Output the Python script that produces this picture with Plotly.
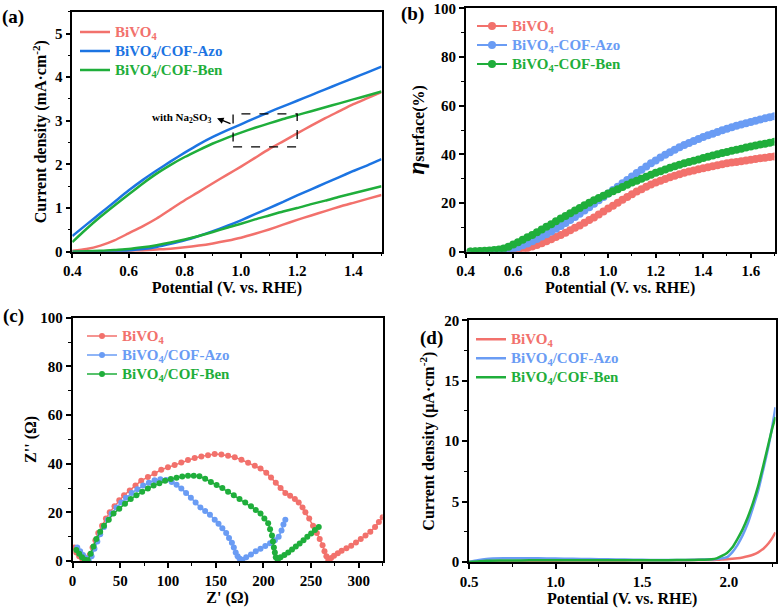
import plotly.graph_objects as go

# ---------------- data ----------------
# (a) LSV, with Na2SO3 (upper) and without (lower)
a_potential = [0.40, 0.45, 0.50, 0.55, 0.60, 0.65, 0.70, 0.75, 0.80, 0.85, 0.90, 0.95,
               1.00, 1.05, 1.10, 1.15, 1.20, 1.25, 1.30, 1.35, 1.40, 1.45, 1.50]
a_bivo4_sulfite = [0.02, 0.06, 0.14, 0.26, 0.42, 0.58, 0.76, 0.97, 1.18, 1.37, 1.57, 1.76,
                   1.95, 2.15, 2.35, 2.53, 2.71, 2.89, 3.06, 3.22, 3.38, 3.52, 3.66]
a_azo_sulfite = [0.36, 0.62, 0.88, 1.14, 1.40, 1.64, 1.86, 2.07, 2.27, 2.46, 2.63, 2.78,
                 2.92, 3.06, 3.20, 3.33, 3.46, 3.59, 3.72, 3.85, 3.98, 4.11, 4.24]
a_ben_sulfite = [0.22, 0.52, 0.80, 1.06, 1.31, 1.56, 1.79, 1.99, 2.17, 2.33, 2.48, 2.61,
                 2.73, 2.84, 2.94, 3.04, 3.13, 3.22, 3.31, 3.40, 3.49, 3.58, 3.67]
a_bivo4 = [0.0, 0.0, 0.0, 0.01, 0.02, 0.03, 0.05, 0.07, 0.10, 0.14, 0.19, 0.25,
           0.32, 0.41, 0.51, 0.62, 0.73, 0.83, 0.93, 1.03, 1.12, 1.21, 1.30]
a_azo = [0.0, 0.0, 0.0, 0.01, 0.03, 0.06, 0.11, 0.18, 0.26, 0.36, 0.47, 0.59,
         0.72, 0.86, 1.00, 1.14, 1.29, 1.43, 1.57, 1.71, 1.85, 1.98, 2.12]
a_ben = [0.0, 0.01, 0.02, 0.04, 0.06, 0.10, 0.15, 0.21, 0.28, 0.36, 0.45, 0.55,
         0.64, 0.74, 0.83, 0.92, 1.00, 1.09, 1.17, 1.26, 1.34, 1.42, 1.50]

# (b) surface charge-transfer efficiency
b_potential = [0.42, 0.44, 0.46, 0.48, 0.50, 0.52, 0.54, 0.56, 0.58, 0.60, 0.62, 0.64, 0.66,
               0.68, 0.70, 0.72, 0.74, 0.76, 0.78, 0.80, 0.82, 0.84, 0.86, 0.88, 0.90, 0.92,
               0.94, 0.96, 0.98, 1.00, 1.02, 1.04, 1.06, 1.08, 1.10, 1.12, 1.14, 1.16, 1.18,
               1.20, 1.22, 1.24, 1.26, 1.28, 1.30, 1.32, 1.34, 1.36, 1.38, 1.40, 1.42, 1.44,
               1.46, 1.48, 1.50, 1.52, 1.54, 1.56, 1.58, 1.60, 1.62, 1.64, 1.66, 1.68, 1.70]
b_bivo4 = [0, 0, 0, 0, 0, 0, 0, 0, 0, 0.1, 0.4, 0.9, 1.5,
           2.1, 2.8, 3.5, 4.3, 5.1, 6.0, 6.9, 7.8, 8.8, 9.8, 10.8, 11.9, 13.0,
           14.1, 15.3, 16.5, 17.7, 18.9, 20.1, 21.3, 22.5, 23.6, 24.7, 25.7, 26.7, 27.6,
           28.4, 29.2, 29.9, 30.6, 31.2, 31.8, 32.4, 32.9, 33.4, 33.9, 34.3, 34.7, 35.1,
           35.5, 35.9, 36.3, 36.6, 36.9, 37.2, 37.5, 37.8, 38.1, 38.4, 38.6, 38.9, 39.1]
b_azo = [0, 0, 0, 0, 0, 0, 0, 0.2, 0.6, 1.1, 1.8, 2.6, 3.4,
         4.3, 5.2, 6.2, 7.2, 8.3, 9.4, 10.6, 11.8, 13.0, 14.3, 15.6, 16.9, 18.3,
         19.7, 21.1, 22.5, 23.9, 25.3, 26.7, 28.1, 29.5, 30.9, 32.3, 33.7, 35.0, 36.3,
         37.5, 38.7, 39.8, 40.9, 41.9, 42.9, 43.8, 44.7, 45.5, 46.3, 47.1, 47.8, 48.5,
         49.2, 49.9, 50.5, 51.1, 51.7, 52.3, 52.8, 53.3, 53.8, 54.3, 54.8, 55.2, 55.6]
b_ben = [0.1, 0.2, 0.3, 0.4, 0.5, 0.7, 0.9, 1.3, 2.0, 3.0, 3.9, 4.9, 5.9,
         6.9, 8.0, 9.1, 10.2, 11.3, 12.5, 13.6, 14.7, 15.8, 16.9, 18.0, 19.1, 20.1,
         21.1, 22.1, 23.0, 23.9, 24.8, 25.7, 26.6, 27.5, 28.4, 29.2, 30.0, 30.8, 31.6,
         32.4, 33.1, 33.8, 34.5, 35.1, 35.7, 36.3, 36.9, 37.4, 37.9, 38.5, 39.0, 39.5,
         40.0, 40.5, 41.0, 41.5, 41.9, 42.3, 42.8, 43.2, 43.6, 44.0, 44.4, 44.8, 45.2]

# (c) Nyquist plots
c_bivo4_re = [2, 4, 7, 10, 13, 15, 18, 21, 24, 27, 31, 35, 39, 44, 49, 54, 60, 66, 72, 79,
              86, 93, 100, 107, 114, 121, 128, 135, 142, 149, 156, 163, 170, 177, 184, 191,
              197, 203, 208, 213, 218, 223, 228, 233, 237, 241, 244, 248, 252, 256, 259,
              262, 264, 266, 268, 271, 274, 278, 282, 287, 292, 297, 302, 307, 312, 317,
              321, 325]
c_bivo4_im = [5.5, 3.5, 2, 1, 0.5, 0.3, 2.5, 5.5, 8.5, 11.5, 14.5, 17.5, 20, 22.5, 25, 27,
              29, 31, 33, 34.5, 36, 37.5, 38.5, 39.5, 40.5, 41.5, 42.3, 43, 43.5, 44, 43.8,
              43.3, 42.6, 41.6, 40.4, 39.2, 38, 36.3, 34.3, 32.2, 30, 28, 26.8, 25.5, 24,
              22, 20, 17.5, 14.5, 11.5, 9, 6.5, 4, 2, 0.5, 1.2, 2.2, 3.2, 4.2, 5.2, 6.3,
              7.6, 9, 10.5, 12, 14, 16, 18]
c_azo_re = [5, 8, 11, 14, 17, 20, 23, 26, 29, 33, 37, 41, 46, 51, 56, 62, 68, 74, 80, 86,
            92, 98, 104, 109, 114, 119, 124, 129, 134, 139, 144, 149, 153, 157, 161, 164,
            167, 169, 171, 173, 175, 178, 182, 187, 192, 197, 202, 207, 212, 216, 219, 221,
            223]
c_azo_im = [5.5, 4, 2.5, 1.2, 0.3, 2, 5, 8, 11, 14, 17, 19.5, 22, 24, 26, 28, 29.5, 31,
            32.2, 33.2, 33.6, 33.3, 32.5, 31.3, 29.8, 28, 26, 24, 22, 20.5, 19, 17, 15.3,
            13.5, 11.5, 9.5, 7.5, 5.5, 3.5, 2, 1, 0.5, 1.5, 2.7, 4, 5, 6.2, 7.3, 8.5, 10,
            12.5, 15, 17]
c_ben_re = [4, 7, 10, 13, 16, 19, 22, 25, 29, 33, 38, 43, 49, 55, 61, 67, 73, 79, 85, 91,
            97, 103, 109, 115, 121, 127, 133, 139, 145, 151, 157, 163, 169, 175, 181, 187,
            192, 197, 201, 205, 207, 209, 210, 211, 212, 213, 215, 218, 222, 226, 230, 234,
            238, 242, 246, 250, 254, 258]
c_ben_im = [4.5, 3, 1.5, 0.5, 0.3, 3, 6, 9, 12, 14.5, 17, 19.5, 21.5, 23.5, 25.5, 27, 28.5,
            29.8, 31, 32, 33, 33.7, 34.2, 34.7, 35, 35, 34.8, 33.8, 32.5, 31.2, 30, 28.5,
            27, 25.5, 24, 22.5, 21, 19.5, 17.5, 15.5, 13, 10.5, 8, 5.5, 3.5, 1.5, 0.3, 1.5,
            2.5, 3.5, 4.7, 6, 7.2, 8.5, 10, 11.3, 12.7, 14]

# (d) dark current
d_potential = [0.50, 0.55, 0.60, 0.70, 0.80, 0.90, 1.00, 1.10, 1.20, 1.30, 1.40, 1.50, 1.60,
               1.70, 1.80, 1.85, 1.90, 1.93, 1.96, 1.99, 2.02, 2.05, 2.08, 2.11, 2.14, 2.17,
               2.20, 2.23, 2.25, 2.27]
d_bivo4 = [0.0, 0.0, 0.02, 0.05, 0.08, 0.10, 0.11, 0.12, 0.12, 0.13, 0.13, 0.14, 0.14,
           0.15, 0.16, 0.16, 0.17, 0.18, 0.20, 0.22, 0.26, 0.31, 0.38, 0.47, 0.60, 0.80,
           1.10, 1.55, 1.95, 2.45]
d_azo = [0.0, 0.15, 0.25, 0.30, 0.30, 0.30, 0.28, 0.26, 0.24, 0.22, 0.20, 0.18, 0.17,
         0.17, 0.18, 0.20, 0.22, 0.25, 0.30, 0.40, 0.80, 1.40, 2.20, 3.20, 4.50, 5.90,
         7.70, 9.60, 11.10, 12.80]
d_ben = [0.0, 0.05, 0.10, 0.12, 0.13, 0.14, 0.14, 0.14, 0.14, 0.14, 0.15, 0.15, 0.15,
         0.16, 0.17, 0.19, 0.22, 0.30, 0.50, 0.75, 1.20, 1.90, 2.70, 3.70, 4.90, 6.30,
         8.00, 9.80, 11.00, 12.00]

names_slash = ["BiVO<sub>4</sub>", "BiVO<sub>4</sub>/COF-Azo", "BiVO<sub>4</sub>/COF-Ben"]
names_dash = ["BiVO<sub>4</sub>", "BiVO<sub>4</sub>-COF-Azo", "BiVO<sub>4</sub>-COF-Ben"]

# ---------------- style ----------------
W, H = 780, 612
RED = "#F2716C"
BLUE_A = "#1C74E2"
BLUE_L = "#6A9CF4"
GREEN = "#1FAE3B"
FONT = "Liberation Serif"


def fx(p):
    return p / W


def fy(p):
    return 1 - p / H


def lname(text, color):
    return f'<span style="color:{color};font-size:15px">{text}</span>'


def axis(rng, dtick, minor, title, domain, anchor, fmt=None, standoff=8, tsize=16):
    d = dict(range=rng, dtick=dtick, tick0=0, domain=domain, anchor=anchor,
             showline=True, linecolor="black", linewidth=1.5, mirror=True,
             ticks="outside", ticklen=5, tickwidth=1.5, tickcolor="black",
             minor=dict(dtick=minor, tick0=0, ticks="outside", ticklen=3, tickwidth=1.2,
                        tickcolor="black", showgrid=False),
             showgrid=False, zeroline=False,
             tickfont=dict(size=15, color="black"),
             title=dict(text=title, font=dict(size=tsize, color="black"), standoff=standoff))
    if fmt:
        d["tickformat"] = fmt
    return d


fig = go.Figure()

# (a)
cols_a = [RED, BLUE_A, GREEN]
for ys, col, nm in zip([a_bivo4_sulfite, a_azo_sulfite, a_ben_sulfite], cols_a, names_slash):
    fig.add_trace(go.Scatter(x=a_potential, y=ys, mode="lines", name=lname(nm, col),
                             line=dict(color=col, width=2.5, shape="spline", smoothing=0.6),
                             xaxis="x", yaxis="y", legend="legend"))
for ys, col in zip([a_bivo4, a_azo, a_ben], cols_a):
    fig.add_trace(go.Scatter(x=a_potential, y=ys, mode="lines", showlegend=False,
                             line=dict(color=col, width=2.5, shape="spline", smoothing=0.6),
                             xaxis="x", yaxis="y"))

# (b)
cols_b = [RED, BLUE_L, GREEN]
for ys, col, nm in zip([b_bivo4, b_azo, b_ben], cols_b, names_dash):
    fig.add_trace(go.Scatter(x=b_potential, y=ys, mode="lines+markers", name=lname(nm, col),
                             line=dict(color=col, width=2), marker=dict(color=col, size=8),
                             xaxis="x2", yaxis="y2", legend="legend2"))

# (c)
for xs, ys, col, nm in zip([c_bivo4_re, c_azo_re, c_ben_re], [c_bivo4_im, c_azo_im, c_ben_im],
                           cols_b, names_slash):
    fig.add_trace(go.Scatter(x=xs, y=ys, mode="lines+markers", name=lname(nm, col),
                             line=dict(color=col, width=1.5), marker=dict(color=col, size=6),
                             xaxis="x3", yaxis="y3", legend="legend3"))

# (d)
for ys, col, nm in zip([d_bivo4, d_azo, d_ben], cols_b, names_slash):
    fig.add_trace(go.Scatter(x=d_potential, y=ys, mode="lines", name=lname(nm, col),
                             line=dict(color=col, width=2.5, shape="spline", smoothing=0.6),
                             xaxis="x4", yaxis="y4", legend="legend4"))

pot_title = "Potential (V. vs. RHE)"
layout = dict(
    width=W, height=H, autosize=False, template="none",
    margin=dict(l=0, r=0, t=0, b=0),
    paper_bgcolor="white", plot_bgcolor="white",
    font=dict(family=FONT, weight="bold", color="black", size=15),
    xaxis=axis([0.4, 1.5], 0.2, 0.1, pot_title, [fx(72.3), fx(381.5)], "y", ".1f",
               standoff=2),
    yaxis=axis([0, 5.5], 1, 0.5, "Current density (mA·cm<sup>-2</sup>)",
               [fy(251.7), fy(11.7)], "x", standoff=4),
    xaxis2=axis([0.4, 1.7], 0.2, 0.1, pot_title, [fx(465.7), fx(774.5)], "y2", ".1f",
                standoff=2),
    yaxis2=axis([0, 100], 20, 10,
                '<span style="font-size:24px"><i>η</i></span>surface(%)',
                [fy(251.7), fy(8.3)], "x2", standoff=5),
    xaxis3=axis([0, 325], 50, 25, "Z' (Ω)", [fx(72.5), fx(382.7)], "y3", standoff=0),
    yaxis3=axis([0, 100], 20, 10, "Z'' (Ω)", [fy(561), fy(317.7)], "x3", standoff=0),
    xaxis4=axis([0.5, 2.27], 0.5, 0.25, pot_title, [fx(469), fx(775.5)], "y4", ".1f",
                standoff=4),
    yaxis4=axis([0, 20], 5, 2.5, "Current density (μA·cm<sup>-2</sup>)",
                [fy(562), fy(320.3)], "x4", standoff=6),
    showlegend=True,
)
leg_common = dict(bgcolor="rgba(0,0,0,0)", borderwidth=0, xanchor="left", yanchor="top",
                  font=dict(size=12, family=FONT, weight="bold"), itemwidth=30,
                  tracegroupgap=0)
layout["legend"] = dict(x=fx(75), y=fy(17.5), **leg_common)
layout["legend2"] = dict(x=fx(472), y=fy(11.5), **leg_common)
layout["legend3"] = dict(x=fx(82), y=fy(321.5), **leg_common)
layout["legend4"] = dict(x=fx(471), y=fy(324.8), **leg_common)

fig.update_layout(**layout)

# panel labels
for txt, xp, yp in [("(a)", 13, 17), ("(b)", 412, 14), ("(c)", 13, 316), ("(d)", 431, 338)]:
    fig.add_annotation(text=txt, x=fx(xp), y=fy(yp), xref="paper", yref="paper",
                       showarrow=False, font=dict(size=19, family=FONT, weight="bold"),
                       xanchor="center", yanchor="middle")

# inset annotation in (a)
fig.add_shape(type="rect", xref="x", yref="y", x0=0.972, x1=1.2, y0=2.4, y1=3.16,
              line=dict(color="black", width=1.3, dash="dash"))
fig.add_annotation(x=0.915, y=3.06, ax=0.968, ay=2.92, xref="x", yref="y", axref="x",
                   ayref="y", text="", showarrow=True, arrowhead=2, arrowsize=1,
                   arrowwidth=1.3, arrowcolor="black")
fig.add_annotation(x=0.79, y=3.07, xref="x", yref="y", text="with Na<sub>2</sub>SO<sub>3</sub>",
                   showarrow=False, font=dict(size=11, family=FONT, weight="bold"))

fig.write_html("out.html", config={"displayModeBar": False},
               post_script="document.body.style.margin='0';document.body.style.padding='0';")
